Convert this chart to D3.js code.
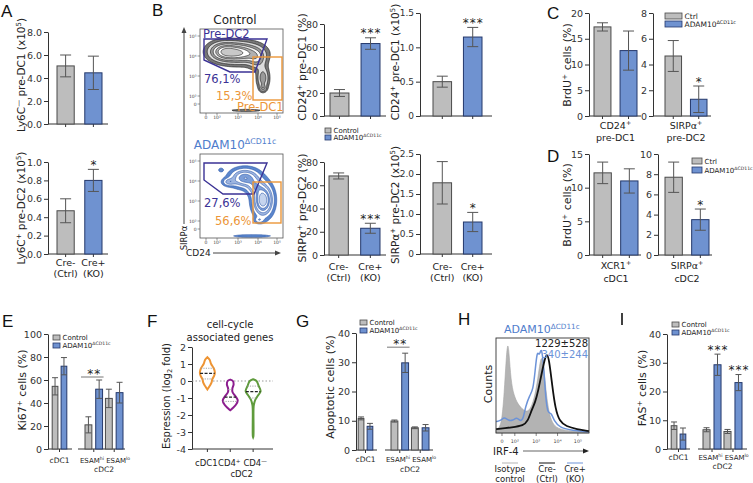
<!DOCTYPE html>
<html><head><meta charset="utf-8">
<script src="https://cdn.jsdelivr.net/npm/d3@7"></script>
<style>body{margin:0;background:#fff}svg{display:block}</style>
</head><body><svg id="c" width="753" height="483"></svg>
<script>
// ================= DATA =================
const series = ["Control", "ADAM10"];
const legendCtrl = ["Control", "ADAM10^{ΔCD11c}"];
const legendCtrlShort = ["Ctrl", "ADAM10^{ΔCD11c}"];
const genotypeLabels = [["Cre-", "(Ctrl)"], ["Cre+", "(KO)"]];

const aTopValues = [5.05, 4.45], aTopErr = [0.95, 1.45], aTopTicks = [0, 2, 4, 6, 8];
const aBotValues = [0.47, 0.80], aBotErr = [0.13, 0.12], aBotTicks = [0, 0.2, 0.4, 0.6, 0.8, 1.0];
const b1Values = [20, 63], b1Err = [3, 5], b1Ticks = [0, 20, 40, 60, 80];
const b2Values = [0.50, 1.15], b2Err = [0.08, 0.14], b2Ticks = [0, 0.5, 1.0, 1.5];
const b3Values = [68, 23], b3Err = [2.6, 4.3], b3Ticks = [0, 20, 40, 60, 80];
const b4Values = [1.78, 0.80], b4Err = [0.53, 0.24], b4Ticks = [0, 0.5, 1.0, 1.5, 2.0, 2.5];
const c1Values = [17.3, 12.7], c1Err = [0.8, 3.8], c1Ticks = [0, 5, 10, 15, 20];
const c2Values = [4.66, 1.3], c2Err = [1.2, 1.03], c2Ticks = [0, 2, 4, 6, 8];
const d1Values = [12.2, 11.0], d1Err = [1.6, 1.8], d1Ticks = [0, 5, 10, 15];
const d2Values = [7.7, 3.5], d2Err = [1.5, 1.05], d2Ticks = [0, 2, 4, 6, 8, 10];

const cellGroups = ["cDC1", "ESAMhi", "ESAMlo"];
const cdc2Label = "ESAM^{hi} ESAM^{lo}";
const eCtrl = [54.5, 21, 44], eCtrlErr = [7.5, 7, 8];
const eKO = [72, 52, 49], eKOErr = [7.5, 8, 9];
const eTicks = [0, 20, 40, 60, 80, 100];
const gCtrl = [10.8, 9.9, 7.6], gCtrlErr = [0.5, 0.35, 0.3];
const gKO = [8.1, 29.8, 7.6], gKOErr = [1.0, 3.3, 1.1];
const gTicks = [0, 10, 20, 30, 40];
const iCtrl = [8.1, 6.7, 6.1], iCtrlErr = [1.3, 0.7, 0.7];
const iKO = [5.2, 29.3, 23.1], iKOErr = [2.1, 3.7, 2.8];
const iTicks = [0, 10, 20, 30, 40];

// F: violins, [value(log2 fold), relative half-width]
const violinGroups = ["cDC1", "CD4+", "CD4-"];
const violinColors = ["#ee9433", "#8c1d8e", "#5f9b3c"];
const violinCdc1 = [[1.4,0],[1.25,0.3],[1.0,0.5],[0.75,0.85],[0.5,1],[0.3,0.9],[0.1,0.65],[-0.1,0.55],[-0.3,0.3],[-0.5,0]];
const violinCd4p = [[0.08,0],[0,0.35],[-0.2,0.45],[-0.45,0.28],[-0.65,0.3],[-0.9,0.7],[-1.15,1],[-1.4,0.75],[-1.6,0.3],[-1.72,0]];
const violinCd4n = [[0.1,0],[0,0.45],[-0.3,0.75],[-0.6,1],[-0.85,0.65],[-1.1,0.3],[-1.4,0.1],[-1.7,0.05],[-3.25,0.04],[-3.32,0]];
const violinQuart = [[0.12, 0.45, 0.75], [-1.2, -0.95, -0.5], [-1.0, -0.62, -0.3]];
const fTicks = [-4, -3, -2, -1, 0, 1, 2];

// B flow plots: log display units, tick labels
const flowTickLabels = ["0", "10²", "10³", "10⁴", "10⁵"];
const flowXTicks = [0, 0.55, 1.6, 2.6, 3.55];
const flowYTicks = [0, 0.4, 1.4, 2.4, 3.4];
// clusters: [cx, cy, sx, sy, weight]
const clustersCtrl = [[0.9,2.62,0.45,0.28,0.9],[1.75,2.55,0.6,0.3,1.0],[2.55,2.25,0.28,0.3,0.4],[2.85,1.3,0.18,0.35,0.45],[2.85,0.8,0.1,0.1,0.35],[2.0,-0.32,0.7,0.05,0.12]];
const clustersKO = [[2.85,1.45,0.28,0.45,1.0],[1.95,2.55,0.42,0.27,0.65],[2.45,2.1,0.25,0.25,0.35],[1.15,2.35,0.2,0.12,0.28],[0.75,2.95,0.08,0.06,0.15],[2.65,0.45,0.15,0.1,0.18],[2.3,-0.35,0.7,0.05,0.12]];
const gateDC2Ctrl = [[-0.1,3.25],[3.05,3.25],[2.45,1.6],[1.2,1.6],[-0.1,2.2]];
const gateDC1Ctrl = [[2.35,2.35],[3.8,0.2]];
const gateDC2KO = [[-0.1,3.3],[3.05,3.3],[2.4,1.75],[0.85,1.75],[-0.1,2.45]];
const gateDC1KO = [[2.35,2.35],[3.75,0.3]];
const pctCtrl = ["76,1%", "15,3%"], pctKO = ["27,6%", "56,6%"];

// H: IRF-4 histograms [display unit, % of max]
const histIsotype = [[-0.28,3],[-0.1,6],[0.0,15],[0.1,40],[0.2,80],[0.27,96],[0.33,85],[0.42,55],[0.55,40],[0.75,30],[1.0,24],[1.2,22],[1.4,28],[1.6,45],[1.75,70],[1.85,82],[1.95,72],[2.05,45],[2.2,20],[2.4,8],[2.7,4],[3.2,2],[4.07,1]];
const histKO = [[-0.28,12],[-0.05,13],[0.1,17],[0.3,13],[0.5,13],[0.7,17],[0.85,12],[1.0,15],[1.1,28],[1.3,40],[1.45,45],[1.55,65],[1.65,88],[1.75,80],[1.85,92],[1.95,70],[2.05,35],[2.15,20],[2.3,22],[2.45,12],[2.7,6],[3.2,3],[4.07,1]];
const histCtrl = [[-0.28,4],[0.5,6],[1.0,8],[1.2,12],[1.4,25],[1.55,32],[1.7,45],[1.85,62],[2.0,78],[2.1,84],[2.2,78],[2.35,50],[2.5,25],[2.7,12],[3.0,7],[3.5,4],[4.07,2]];
const histXTicks = [0, 0.6, 1.6, 2.6, 3.55];
const mfiLabels = ["1229±528", "340±244"];
const histLegend = [["Isotype","control"],["Cre-","(Ctrl)"],["Cre+","(KO)"]];

// ================= STYLE / HELPERS =================
const svg = d3.select("#c");
const FONT = '"DejaVu Sans", Verdana, sans-serif';
const LFONT = '"Liberation Sans", Arial, sans-serif';
const AX = "#333", TXT = "#222";
const FILL = ["#bdbdbd", "#6f92d0"], STROKE = ["#4a4a4a", "#24386b"];
const ERR = "#555";
const NAVY = "#3b3295", ORANGE = "#ec9638", KOBLUE = "#4f7dcc";

function rich(sel, str, fs) {
  const parts = str.split(/(\^\{[^}]*\}|_\{[^}]*\})/).filter(s => s.length);
  let off = 0;
  parts.forEach(p => {
    let t = p, target = 0, size = fs;
    if (p.startsWith("^{")) { t = p.slice(2, -1); target = -0.38 * fs; size = fs * 0.66; }
    else if (p.startsWith("_{")) { t = p.slice(2, -1); target = 0.22 * fs; size = fs * 0.66; }
    sel.append("tspan").attr("dy", target - off).attr("font-size", size).text(t);
    off = target;
  });
}
function txt(x, y, str, o = {}) {
  const fs = o.fs || 9;
  const t = svg.append("text").attr("x", x).attr("y", y)
    .attr("font-family", o.ff || FONT).attr("font-size", fs)
    .attr("fill", o.fill || TXT).attr("text-anchor", o.anchor || "start");
  if (o.rot) t.attr("transform", `rotate(${o.rot},${x},${y})`);
  if (o.ls) t.attr("letter-spacing", o.ls);
  rich(t, str, fs);
  return t;
}
function ylabel(cx, cy, str, fs) { if (str) txt(cx + fs * 0.36, cy, str, { rot: -90, anchor: "middle", fs }); }
const plainFmt = d => String(d);
function styleAxis(ax, fs) {
  ax.attr("font-family", FONT).attr("font-size", fs);
  ax.select(".domain").attr("stroke", AX).attr("stroke-width", 1);
  ax.selectAll(".tick line").attr("stroke", AX);
  ax.selectAll(".tick text").attr("fill", AX);
}
function errBar(g, xc, y1, y2, cap) {
  g.append("line").attr("x1", xc).attr("x2", xc).attr("y1", y1).attr("y2", y2).attr("stroke", ERR);
  [y1, y2].forEach(yy => g.append("line").attr("x1", xc - cap / 2).attr("x2", xc + cap / 2)
    .attr("y1", yy).attr("y2", yy).attr("stroke", ERR));
}
function stars(x, yErrTop, n, fs = 12) {
  txt(x + (n > 1 ? 0.5 : 0), yErrTop - 0.5, "*".repeat(n), { anchor: "middle", fs, ls: n > 1 ? 1 : 0 });
}
function legend(x, y, w, h, step, labels, fs) {
  labels.forEach((l, i) => {
    svg.append("rect").attr("x", x).attr("y", y + i * step).attr("width", w).attr("height", h)
      .attr("fill", FILL[i]).attr("stroke", STROKE[i]).attr("stroke-width", 0.8);
    txt(x + w + 2.5, y + i * step + h, l, { fs });
  });
}
function panelLetter(x, y, l) { txt(x, y, l, { ff: LFONT, fs: 17, fill: "#111" }); }

function barPanel(c) {
  const y = d3.scaleLinear().domain([0, c.max]).range([c.yBot, c.yTop]);
  const x = d3.scaleBand().domain(series).range(c.bx).paddingInner(c.pi || 0.38);
  const g = svg.append("g");
  const ax = g.append("g").attr("transform", `translate(${c.x0},0)`)
    .call(d3.axisLeft(y).tickValues(c.ticks).tickFormat(c.fmt).tickSize(4).tickSizeOuter(0).tickPadding(2));
  styleAxis(ax, c.fs || 9.5);
  g.append("line").attr("x1", c.x0).attr("x2", c.x1).attr("y1", y(0)).attr("y2", y(0)).attr("stroke", AX);
  series.forEach((s, i) => {
    const v = c.values[i], e = c.errs[i], xc = x(s) + x.bandwidth() / 2;
    g.append("line").attr("x1", xc).attr("x2", xc).attr("y1", y(0)).attr("y2", y(0) + 3).attr("stroke", AX);
    g.append("rect").attr("x", x(s)).attr("width", x.bandwidth()).attr("y", y(v)).attr("height", y(0) - y(v))
      .attr("fill", FILL[i]).attr("stroke", STROKE[i]).attr("stroke-width", 1);
    errBar(g, xc, y(v - e), y(v + e), c.cap || 11);
    if (c.stars && c.stars[i]) stars(xc, y(v + e), c.stars[i]);
    if (c.xlabels) c.xlabels[i].forEach((l, k) => txt(xc, c.xly[k], l, { anchor: "middle", fs: 9.5 }));
  });
  if (c.xlabelsCenter) {
    const cx = (c.bx[0] + c.bx[1]) / 2;
    c.xlabelsCenter.forEach((l, k) => txt(cx, c.xly[k], l, { anchor: "middle", fs: 9.5 }));
  }
  ylabel(c.ylx, c.yly !== undefined ? c.yly : (c.yTop + c.yBot) / 2, c.ylabel, c.ylfs || 11);
}

function groupedPanel(c) {
  const y = d3.scaleLinear().domain([0, c.max]).range([c.yBot, c.yTop]);
  const g = svg.append("g");
  const ax = g.append("g").attr("transform", `translate(${c.x0},0)`)
    .call(d3.axisLeft(y).tickValues(c.ticks).tickFormat(plainFmt).tickSize(4).tickSizeOuter(0).tickPadding(2));
  styleAxis(ax, 9.5);
  const segs = [{ axis: c.seg1, band: c.band1, groups: [cellGroups[0]] },
                { axis: c.seg2, band: c.band2, groups: cellGroups.slice(1) }];
  segs.forEach((sg, si) => {
    g.append("line").attr("x1", sg.axis[0]).attr("x2", sg.axis[1]).attr("y1", y(0)).attr("y2", y(0)).attr("stroke", AX);
    const gx = d3.scaleBand().domain(sg.groups).range(sg.band).paddingInner(0.14);
    const sx = d3.scaleBand().domain(series).range([0, gx.bandwidth()]).paddingInner(0.36);
    sg.groups.forEach(grp => {
      const gi = cellGroups.indexOf(grp);
      const gc = gx(grp) + gx.bandwidth() / 2;
      g.append("line").attr("x1", gc).attr("x2", gc).attr("y1", y(0)).attr("y2", y(0) + 3).attr("stroke", AX);
      const vals = [c.ctrl[gi], c.ko[gi]], errs = [c.ctrlErr[gi], c.koErr[gi]];
      series.forEach((s, i) => {
        const bx = gx(grp) + sx(s), xc = bx + sx.bandwidth() / 2;
        g.append("rect").attr("x", bx).attr("width", sx.bandwidth()).attr("y", y(vals[i])).attr("height", y(0) - y(vals[i]))
          .attr("fill", FILL[i]).attr("stroke", STROKE[i]).attr("stroke-width", 1);
        errBar(g, xc, y(vals[i] - errs[i]), y(vals[i] + errs[i]), 6);
        if (c.koStars && i === 1 && c.koStars[gi]) stars(xc, y(vals[i] + errs[i]), c.koStars[gi]);
      });
      if (c.pairStars && c.pairStars[gi]) {
        const top = y(Math.max(vals[0] + errs[0], vals[1] + errs[1])) - c.pairGap;
        g.append("line").attr("x1", gx(grp) - 4).attr("x2", gx(grp) + gx.bandwidth() + 1).attr("y1", top).attr("y2", top).attr("stroke", "#777");
        stars(gc, top + 1.5, c.pairStars[gi]);
      }
    });
    const mid = (sg.band[0] + sg.band[1]) / 2;
    if (si === 0) txt(mid, c.xly[0], "cDC1", { anchor: "middle", fs: 7.5 });
    else {
      txt(mid + 1, c.xly[0], cdc2Label, { anchor: "middle", fs: 7 });
      txt(mid, c.xly[1], "cDC2", { anchor: "middle", fs: 7.5 });
    }
  });
  ylabel(c.ylx, c.yly, c.ylabel, 11);
}

// ================= PANEL A =================
panelLetter(1, 17, "A");
barPanel({ x0: 48, x1: 108, bx: [57, 102], yTop: 32, yBot: 124, max: 8, ticks: aTopTicks, fmt: d3.format(".1f"),
  values: aTopValues, errs: aTopErr, ylx: 21, yly: 75, ylfs: 10.5, ylabel: "Ly6C^{—} pre-DC1 (x10^{5})" });
barPanel({ x0: 48, x1: 108, bx: [57, 102], yTop: 162, yBot: 254, max: 1.0, ticks: aBotTicks, fmt: d3.format(".1f"),
  values: aBotValues, errs: aBotErr, stars: [0, 1], ylx: 21, yly: 208, ylfs: 10.5, ylabel: "Ly6C^{+} pre-DC2 (x10^{5})",
  xlabels: genotypeLabels, xly: [266, 277] });

// ================= PANEL B =================
panelLetter(152, 16, "B");
const fmt05 = d => d === 0 ? "0" : d3.format(".1f")(d);
barPanel({ x0: 324, x1: 386, bx: [330, 380], pi: 0.39, yTop: 24, yBot: 116, max: 80, ticks: b1Ticks, fmt: plainFmt,
  values: b1Values, errs: b1Err, stars: [0, 3], ylx: 302, yly: 67, ylabel: "CD24^{+} pre-DC1 (%)" });
barPanel({ x0: 420, x1: 492, bx: [433, 482], pi: 0.39, yTop: 13, yBot: 116, max: 1.5, ticks: b2Ticks, fmt: fmt05, fs: 9,
  values: b2Values, errs: b2Err, stars: [0, 3], ylx: 395, yly: 62, ylfs: 10.5, ylabel: "CD24^{+} pre-DC1 (x10^{5})" });
barPanel({ x0: 324, x1: 386, bx: [329, 380], pi: 0.39, yTop: 162, yBot: 255, max: 80, ticks: b3Ticks, fmt: plainFmt,
  values: b3Values, errs: b3Err, stars: [0, 3], ylx: 302, yly: 208, ylabel: "SIRPα^{+} pre-DC2 (%)",
  xlabels: genotypeLabels, xly: [270, 281] });
barPanel({ x0: 420, x1: 492, bx: [433, 482], pi: 0.39, yTop: 154, yBot: 254, max: 2.5, ticks: b4Ticks, fmt: fmt05, fs: 9,
  values: b4Values, errs: b4Err, stars: [0, 1], ylx: 395, yly: 205, ylfs: 10.5, ylabel: "SIRPα^{+} pre-DC2 (x10^{5})",
  xlabels: genotypeLabels, xly: [270, 281] });
legend(325, 128, 6, 5, 7, legendCtrl, 7);

// flow plots
function flowPlot(c) {
  const xd = [-0.3, 3.85], yd = [-0.45, 3.75];
  const xs = d3.scaleLinear().domain(xd).range([200, 283]);
  const ys = d3.scaleLinear().domain(yd).range([c.top + 84, c.top]);
  const g = svg.append("g");
  const clipId = "clip" + c.top;
  svg.append("clipPath").attr("id", clipId).append("rect").attr("x", 200).attr("y", c.top).attr("width", 83).attr("height", 84);
  const nx = 100, ny = 100, vals = new Float64Array(nx * ny);
  for (let j = 0; j < ny; j++) for (let i = 0; i < nx; i++) {
    const ux = xd[0] + (i + 0.5) * (xd[1] - xd[0]) / nx, uy = yd[0] + (j + 0.5) * (yd[1] - yd[0]) / ny;
    let s = 0;
    c.clusters.forEach(([cx, cy, sx, sy, w]) => { s += w * Math.exp(-((ux - cx) ** 2) / (2 * sx * sx) - ((uy - cy) ** 2) / (2 * sy * sy)); });
    vals[j * nx + i] = s;
  }
  const mx = d3.max(vals);
  const levels = [0.05, 0.13, 0.24, 0.37, 0.51, 0.65, 0.8].map(l => l * mx);
  const contours = d3.contours().size([nx, ny]).thresholds(levels)(vals);
  const path = d3.geoPath(d3.geoTransform({ point: function (px, py) {
    this.stream.point(xs(xd[0] + px * (xd[1] - xd[0]) / nx), ys(yd[0] + py * (yd[1] - yd[0]) / ny)); } }));
  const cg = g.append("g").attr("clip-path", `url(#${clipId})`);
  cg.selectAll("path").data(contours).join("path").attr("d", path)
    .attr("fill", (d, i) => c.fills[i % c.fills.length]).attr("stroke", c.stroke).attr("stroke-width", 0.6);
  g.append("rect").attr("x", 200).attr("y", c.top).attr("width", 83).attr("height", 84).attr("fill", "none").attr("stroke", "#555").attr("stroke-width", 0.8);
  flowXTicks.forEach((t, i) => {
    g.append("line").attr("x1", xs(t)).attr("x2", xs(t)).attr("y1", c.top + 84).attr("y2", c.top + 86.5).attr("stroke", "#555").attr("stroke-width", 0.6);
    txt(xs(t), c.top + 90, flowTickLabels[i], { anchor: "middle", fs: 4.5, fill: "#444" });
  });
  flowYTicks.forEach((t, i) => {
    g.append("line").attr("x1", 197.5).attr("x2", 200).attr("y1", ys(t)).attr("y2", ys(t)).attr("stroke", "#555").attr("stroke-width", 0.6);
    txt(196.5, ys(t) + 1.5, flowTickLabels[i], { anchor: "end", fs: 4.5, fill: "#444" });
  });
  g.append("path").attr("d", d3.line().x(d => xs(d[0])).y(d => ys(d[1])).curve(d3.curveLinearClosed)(c.gate2))
    .attr("fill", "none").attr("stroke", NAVY).attr("stroke-width", 1.4);
  g.append("rect").attr("x", xs(c.gate1[0][0])).attr("y", ys(c.gate1[0][1]))
    .attr("width", xs(c.gate1[1][0]) - xs(c.gate1[0][0])).attr("height", ys(c.gate1[1][1]) - ys(c.gate1[0][1]))
    .attr("fill", "none").attr("stroke", ORANGE).attr("stroke-width", 1.4);
  txt(235, c.top - 5, c.title, { anchor: "middle", fs: 12, fill: c.titleColor });
  c.labels.forEach(l => txt(l[0], l[1], l[2], { fs: 11.5, fill: l[3] }));
}
flowPlot({ top: 29, clusters: clustersCtrl, fills: ["#777777", "#dcdcdc", "#9a9a9a", "#f4f4f4", "#b0b0b0", "#ffffff", "#c8c8c8"], stroke: "#111",
  gate2: gateDC2Ctrl, gate1: gateDC1Ctrl, title: "Control", titleColor: TXT,
  labels: [[203, 38, "Pre-DC2", NAVY], [204, 83, pctCtrl[0], NAVY], [216, 100, pctCtrl[1], ORANGE], [237, 111, "Pre-DC1", ORANGE]] });
flowPlot({ top: 154, clusters: clustersKO, fills: ["#5b86cc", "#ffffff", "#9db5e0", "#ffffff", "#7c9ed8", "#ffffff", "#c5d4ee"], stroke: "#2a55a8",
  gate2: gateDC2KO, gate1: gateDC1KO, title: "ADAM10^{ΔCD11c}", titleColor: KOBLUE,
  labels: [[204, 207, pctKO[0], NAVY], [215, 225, pctKO[1], ORANGE]] });
svg.append("line").attr("x1", 184).attr("x2", 184).attr("y1", 224).attr("y2", 31).attr("stroke", "#444").attr("stroke-width", 1);
svg.append("path").attr("d", "M184,27 L181.5,33 L186.5,33 Z").attr("fill", "#444");
txt(184 + 3, 238, "SIRPα", { rot: -90, anchor: "middle", fs: 8.5 });
txt(186, 256, "CD24", { fs: 9 });
svg.append("line").attr("x1", 213).attr("x2", 277).attr("y1", 253).attr("y2", 253).attr("stroke", "#444").attr("stroke-width", 1);
svg.append("path").attr("d", "M281,253 L275,250.5 L275,255.5 Z").attr("fill", "#444");

// ================= PANEL C / D =================
panelLetter(547, 19, "C");
barPanel({ x0: 589, x1: 641, bx: [594, 637], pi: 0.35, yTop: 13, yBot: 116, max: 20, ticks: c1Ticks, fmt: plainFmt,
  values: c1Values, errs: c1Err, ylx: 567, yly: 65, ylabel: "BrdU^{+} cells (%)", xlabelsCenter: ["CD24^{+}", "pre-DC1"], xly: [129, 141] });
barPanel({ x0: 653, x1: 711, bx: [665, 707], pi: 0.35, yTop: 13, yBot: 116, max: 8, ticks: c2Ticks, fmt: plainFmt,
  values: c2Values, errs: c2Err, stars: [0, 1], ylx: 0, yly: 0, ylabel: "", xlabelsCenter: ["SIRPα^{+}", "pre-DC2"], xly: [129, 141] });
legend(665, 13, 17, 6, 8, legendCtrlShort, 7.5);

panelLetter(547, 162, "D");
barPanel({ x0: 589, x1: 641, bx: [594, 638], pi: 0.35, yTop: 154, yBot: 255, max: 15, ticks: d1Ticks, fmt: plainFmt,
  values: d1Values, errs: d1Err, ylx: 567, yly: 205, ylabel: "BrdU^{+} cells (%)", xlabelsCenter: ["XCR1^{+}", "cDC1"], xly: [269, 282] });
barPanel({ x0: 658, x1: 712, bx: [665, 709], pi: 0.35, yTop: 154, yBot: 255, max: 10, ticks: d2Ticks, fmt: plainFmt,
  values: d2Values, errs: d2Err, stars: [0, 1], ylx: 0, yly: 0, ylabel: "", xlabelsCenter: ["SIRPα^{+}", "cDC2"], xly: [269, 282] });
legend(692, 158, 10, 6, 9, legendCtrlShort, 7);

// ================= PANEL E =================
panelLetter(2, 327, "E");
groupedPanel({ x0: 48, yTop: 334, yBot: 449, max: 100, ticks: eTicks, seg1: [48, 72], band1: [51, 68], seg2: [78, 125], band2: [85, 123],
  ctrl: eCtrl, ko: eKO, ctrlErr: eCtrlErr, koErr: eKOErr, pairStars: [0, 2, 0], pairGap: 3,
  xly: [463, 472], ylx: 22, yly: 390, ylabel: "Ki67^{+} cells (%)" });
legend(53, 335, 7, 5, 8, legendCtrl, 7);

// ================= PANEL F =================
panelLetter(147, 327, "F");
(function () {
  const y = d3.scaleLinear().domain([-4, 2]).range([449, 347]);
  const x = d3.scalePoint().domain(violinGroups).range([184.5, 276]).padding(1);
  const w = d3.scaleLinear().domain([0, 1]).range([0, 7.5]);
  const g = svg.append("g");
  const ax = g.append("g").attr("transform", "translate(192,0)")
    .call(d3.axisLeft(y).tickValues(fTicks).tickFormat(plainFmt).tickSize(4).tickSizeOuter(0).tickPadding(2));
  styleAxis(ax, 9.5);
  g.append("line").attr("x1", 192).attr("x2", 273).attr("y1", y(-4)).attr("y2", y(-4)).attr("stroke", AX);
  g.append("line").attr("x1", 192).attr("x2", 273).attr("y1", y(0)).attr("y2", y(0)).attr("stroke", "#999").attr("stroke-dasharray", "1.5,2");
  [violinCdc1, violinCd4p, violinCd4n].forEach((vd, i) => {
    const cx = x(violinGroups[i]);
    g.append("line").attr("x1", cx).attr("x2", cx).attr("y1", y(-4)).attr("y2", y(-4) + 3).attr("stroke", AX);
    const area = d3.area().curve(d3.curveCatmullRom).y(d => y(d[0])).x0(d => cx - w(d[1])).x1(d => cx + w(d[1]));
    g.append("path").attr("d", area(vd)).attr("fill", "#fff").attr("stroke", violinColors[i]).attr("stroke-width", 2);
    const hw = v => {
      for (let k = 0; k < vd.length - 1; k++) { const a = vd[k], b = vd[k + 1];
        if (v <= a[0] && v >= b[0]) return w(a[1] + (b[1] - a[1]) * (a[0] - v) / (a[0] - b[0])); }
      return 0; };
    violinQuart[i].forEach((q, k) => {
      const hh = hw(q);
      g.append("line").attr("x1", cx - hh).attr("x2", cx + hh).attr("y1", y(q)).attr("y2", y(q))
        .attr("stroke", k === 1 ? "#222" : "#999").attr("stroke-width", k === 1 ? 1.2 : 0.9)
        .attr("stroke-dasharray", k === 1 ? "3,1.5" : "1.2,1.2");
    });
  });
  txt(230, 328, "cell-cycle", { anchor: "middle", fs: 10 });
  txt(230, 341, "associated genes", { anchor: "middle", fs: 10 });
  txt(x("cDC1") - 1, 466, "cDC1", { anchor: "middle", fs: 8.5 });
  txt(x("CD4+") - 1, 466, "CD4^{+}", { anchor: "middle", fs: 8.5 });
  txt(x("CD4-") + 2, 466, "CD4^{—}", { anchor: "middle", fs: 8.5 });
  txt((x("CD4+") + x("CD4-")) / 2, 477, "cDC2", { anchor: "middle", fs: 8.5 });
  ylabel(166, 396, "Espression (log_{2} fold)", 10);
})();

// ================= PANEL G =================
panelLetter(296, 327, "G");
groupedPanel({ x0: 356, yTop: 333, yBot: 450, max: 40, ticks: gTicks, seg1: [356, 377], band1: [357, 374], seg2: [385, 433], band2: [391, 429],
  ctrl: gCtrl, ko: gKO, ctrlErr: gCtrlErr, koErr: gKOErr, pairStars: [0, 2, 0], pairGap: 6,
  xly: [462, 472], ylx: 330, yly: 387, ylabel: "Apoptotic cells (%)" });
legend(360, 320, 7, 5, 8, legendCtrl, 7);

// ================= PANEL H =================
panelLetter(458, 325, "H");
(function () {
  const x = d3.scaleLinear().domain([-0.28, 4.07]).range([496, 589]);
  const y = d3.scaleLinear().domain([0, 100]).range([433, 338]);
  const g = svg.append("g");
  g.append("path").attr("d", d3.area().curve(d3.curveBasis).x(d => x(d[0])).y0(y(0)).y1(d => y(d[1]))(histIsotype))
    .attr("fill", "#b3b3b3").attr("stroke", "#a5a5a5").attr("stroke-width", 0.6);
  g.append("path").attr("d", d3.line().curve(d3.curveBasis).x(d => x(d[0])).y(d => y(d[1]))(histKO))
    .attr("fill", "none").attr("stroke", "#6c93d8").attr("stroke-width", 1.5);
  g.append("path").attr("d", d3.line().curve(d3.curveBasis).x(d => x(d[0])).y(d => y(d[1]))(histCtrl))
    .attr("fill", "none").attr("stroke", "#111").attr("stroke-width", 1.8);
  g.append("rect").attr("x", 496).attr("y", 338).attr("width", 93).attr("height", 95).attr("fill", "none").attr("stroke", "#333").attr("stroke-width", 0.9);
  histXTicks.forEach((t, i) => {
    g.append("line").attr("x1", x(t)).attr("x2", x(t)).attr("y1", 433).attr("y2", 436).attr("stroke", "#333").attr("stroke-width", 0.6);
    txt(x(t), 443, flowTickLabels[i], { anchor: "middle", fs: 4.8, fill: "#444" });
  });
  txt(504, 333, "ADAM10^{ΔCD11c}", { fs: 11, fill: KOBLUE });
  txt(588, 347, mfiLabels[0], { anchor: "end", fs: 10 });
  txt(588, 358, mfiLabels[1], { anchor: "end", fs: 10, fill: "#6c93d8" });
  ylabel(488, 384, "Counts", 11);
  txt(493, 455, "IRF-4", { fs: 10 });
  g.append("line").attr("x1", 523).attr("x2", 584).attr("y1", 451).attr("y2", 451).attr("stroke", "#666").attr("stroke-width", 1.2);
  g.append("path").attr("d", "M589,451 L583,448.5 L583,453.5 Z").attr("fill", "#222");
  const lc = ["#b3b3b3", "#111", "#6c93d8"], lx = [510, 547, 575];
  histLegend.forEach((l, i) => {
    g.append("line").attr("x1", lx[i] - 8).attr("x2", lx[i] + 8).attr("y1", 463).attr("y2", 463).attr("stroke", lc[i]).attr("stroke-width", 1);
    txt(lx[i], 472, l[0], { anchor: "middle", fs: 8.5 });
    txt(lx[i], 482, l[1], { anchor: "middle", fs: 8.5 });
  });
})();

// ================= PANEL I =================
svg.append("line").attr("x1", 622).attr("x2", 622).attr("y1", 313).attr("y2", 325).attr("stroke", "#111").attr("stroke-width", 1.6);
groupedPanel({ x0: 667, yTop: 334, yBot: 449, max: 40, ticks: iTicks, seg1: [667, 690], band1: [670, 687], seg2: [698, 747], band2: [703, 742],
  ctrl: iCtrl, ko: iKO, ctrlErr: iCtrlErr, koErr: iKOErr, koStars: [0, 3, 3],
  xly: [460, 469], ylx: 642, yly: 388, ylabel: "FAS^{+} cells (%)" });
legend(672, 322, 7, 5, 8, legendCtrl, 7);
</script></body></html>
